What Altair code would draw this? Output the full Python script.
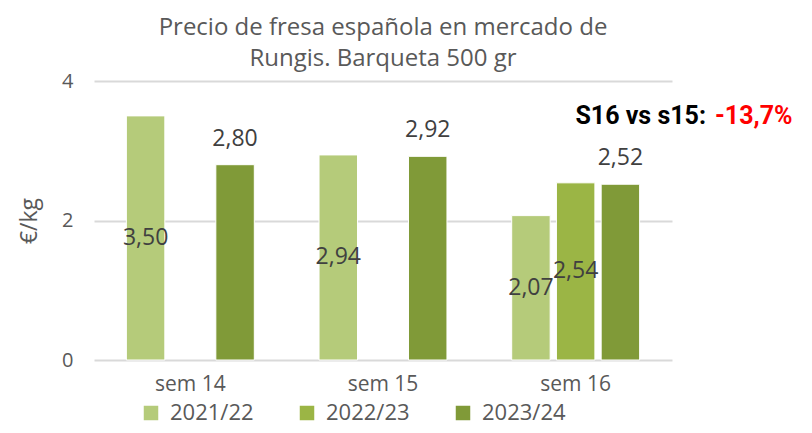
import altair as alt
import pandas as pd

weeks = ["sem 14", "sem 15", "sem 16"]
seasons = ["2021/22", "2022/23", "2023/24"]
colors = ["#b5cb7a", "#9bb545", "#809a38"]

row_week = ["sem 14", "sem 14", "sem 15", "sem 15", "sem 16", "sem 16", "sem 16"]
row_season = ["2021/22", "2023/24", "2021/22", "2023/24", "2021/22", "2022/23", "2023/24"]
row_value = [3.50, 2.80, 2.94, 2.92, 2.07, 2.54, 2.52]
row_label = ["3,50", "2,80", "2,94", "2,92", "2,07", "2,54", "2,52"]
row_pos = ["mid", "top", "mid", "top", "mid", "mid", "top"]

df = pd.DataFrame({
    "week": row_week, "season": row_season, "value": row_value,
    "label": row_label, "pos": row_pos,
})

FONT = "Open Sans"
GRAY = "#595959"

base = alt.Chart(df).encode(
    x=alt.X("week:N", sort=weeks,
            scale=alt.Scale(domain=weeks, paddingInner=0.336, paddingOuter=0.168),
            axis=alt.Axis(title=None, labelAngle=0, labelFontSize=21, labelFont=FONT,
                          labelColor=GRAY, ticks=False, domain=False, labelPadding=13)),
    xOffset=alt.XOffset("season:N", scale=alt.Scale(domain=seasons, paddingInner=0.14)),
)

bars = base.mark_bar(stroke="white", strokeWidth=1).encode(
    y=alt.Y("value:Q", scale=alt.Scale(domain=[0, 4]),
            axis=alt.Axis(values=[0, 2, 4], format=".0f", title="€/kg", titleFontSize=23,
                          titleFont=FONT, titleFontWeight="normal", titleColor=GRAY,
                          titlePadding=20, labelFontSize=20, labelFont=FONT, labelColor=GRAY,
                          labelPadding=21, ticks=False, domain=False,
                          gridColor="#d9d9d9", gridWidth=2)),
    color=alt.Color("season:N", scale=alt.Scale(domain=seasons, range=colors),
                    legend=alt.Legend(title=None, orient="none", direction="horizontal",
                                      legendX=46, legendY=321, symbolType="square",
                                      symbolSize=210, symbolStrokeWidth=0,
                                      labelFontSize=22, labelFont=FONT, labelColor=GRAY,
                                      labelOffset=8, columnPadding=42)),
)

mid = base.transform_filter(alt.datum.pos == "mid").transform_calculate(
    half="datum.value / 2"
).mark_text(font=FONT, fontSize=23, color="#404040", baseline="middle").encode(
    y="half:Q", text="label:N")

top = base.transform_filter(alt.datum.pos == "top").mark_text(
    font=FONT, fontSize=23, color="#404040", baseline="middle", dy=-26
).encode(y="value:Q", text="label:N")

note1 = alt.Chart(pd.DataFrame({"t": ["S16 vs s15: "]})).mark_text(
    font="Roboto", fontSize=25, fontWeight="bold", color="black", align="right",
    baseline="middle").encode(x=alt.value(612), y=alt.value(35), text="t:N")
note2 = alt.Chart(pd.DataFrame({"t": ["-13,7%"]})).mark_text(
    font="Roboto", fontSize=25, fontWeight="bold", color="#ff0000", align="left",
    baseline="middle").encode(x=alt.value(621), y=alt.value(35), text="t:N")

chart = alt.layer(bars, mid, top, note1, note2).properties(
    width=578, height=279,
    autosize=alt.AutoSizeParams(type="none"),
    padding={"left": 86, "top": 73, "right": 130, "bottom": 65},
    title=alt.Title(["Precio de fresa española en mercado de", "Rungis. Barqueta 500 gr"],
                    font=FONT, fontSize=24, fontWeight="normal", color=GRAY,
                    anchor="middle", offset=0, lineHeight=31),
).configure_view(stroke=None)

chart.save("out.html", embed_options={"renderer": "svg", "actions": False})
